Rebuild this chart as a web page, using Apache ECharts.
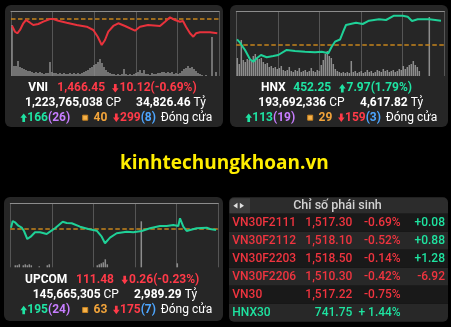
<!DOCTYPE html>
<html><head><meta charset="utf-8">
<script src="https://cdn.jsdelivr.net/npm/echarts@6/dist/echarts.min.js"></script>
<style>html,body{margin:0;padding:0;background:#000;}#c{width:451px;height:327px;}</style>
</head><body><div id="c"></div>
<script>
// ---------- DATA ----------
// time positions (session progress, 0..208) and index values
const vniT = [1,4,6.3,9,12.3,15,19,22.3,27.3,32.3,39,42.3,47.3,55.7,65.7,75.7,82.3,86.7,90.7,94,97.3,102.3,107.3,114,124,129,137,149,154,159,164,169,172,175,179,182.3,185,189,199,201,206.3];
const vniV = [1471.83,1467.58,1466.45,1468.79,1473.53,1475.86,1473.95,1472.32,1473.03,1474.66,1476.57,1476.57,1475.37,1473.95,1472.32,1471.12,1468.79,1464.04,1458.17,1461.71,1467.58,1471.62,1473.53,1471.62,1468.29,1471.12,1472.32,1471.62,1474.66,1477.77,1475.86,1474.66,1475.15,1471.12,1466.45,1464.04,1466.45,1467.16,1467.16,1466.45,1466.45];
const vniRef = 1476.57;
const vniVol = [51,10,10,15,9,8,7,6,5,5,4,3,4,3,4,3,2,3,3,14,4,3,3,2,3,2,3,2,2,3,2,3,2,3,2,3,4,5,6,8,9,11,12,14,17,13,9,6,4,3,2,2,1,2,1,2,7,2,1,2,1,2,3,4,6,3,6,2,2,1,3,2,2,3,3,4,4,3,4,3,4,2,3,2,3,5,7,8,10,8,9,7,5,3,2,1,0,1,0,0,39,0,4,0];

const hnxT = [0.7,3.7,8.7,13.7,17,20.4,24.7,30.4,37,42,50.4,58.7,68.7,78.7,85.4,92,95.4,98.7,103.7,106.7,109.7,119.7,126.4,132.7,142.7,149.7,157.7,166.4,171.4,175.7,181.4,193,194.7,204.7];
const hnxV = [445.97,444.82,442.36,439.21,438.40,439.55,440.67,439.89,440.33,440.67,442.36,442.02,441.78,441.58,441.78,441.24,443.47,445.16,445.90,448.43,450.80,451.57,451.14,452.25,452.72,452.49,453.94,453.94,453.60,452.15,452.72,452.72,452.25,452.25];
const hnxRef = 444.28;
const hnxVol = [18,12,36,16,14,17,16,15,20,22,18,17,18,14,12,13,9,10,8,9,7,8,10,6,5,6,9,5,4,6,5,8,4,5,6,4,5,8,5,4,6,5,11,16,22,25,20,18,12,7,5,4,3,4,3,4,3,15,4,5,3,4,5,3,4,6,4,5,3,4,6,5,4,7,5,6,4,5,6,4,5,7,6,10,7,9,11,12,15,11,9,5,0,0,0,0,59,0,0,0,0,0,0,0];

const upcT = [0.7,2.4,4.7,8,11.4,13.7,17,20.4,24.7,29.7,36.4,39.7,44.7,52.4,56.4,61.4,69.7,78,86.4,91.4,94.7,99.7,106.4,116.4,123,131.4,139.7,149.7,156.4,163,168,169.7,171.4,173,176.4,179.7,186.4,196.4,199.7,205.7];
const upcV = [112.07,113.74,113.42,112.57,112.07,111.24,109.24,109.82,110.92,110.92,110.49,111.07,111.92,113.57,113.24,113.17,112.32,111.74,111.32,109.82,108.17,109.57,110.67,111.07,110.92,111.24,111.92,112.49,112.49,112.74,112.49,114.42,114.24,112.32,111.24,111.49,111.92,112.07,111.74,111.48];
const upcRef = 111.74;
const upcVol = [0,0,2,2,3,0,2,3,2,3,2,0,0,0,1,0,0,0,2,3,0,0,0,0,0,0,0,0,0,0,0,0,0,0,0,0,0,0,0,0,0,0,0,2,3,4,5,8,3,0,0,0,0,0,0,0,0,0,0,0,0,0,0,0,0,46,0,0,0,0,0,0,0,0,0,0,0,0,0,0,0,0,0,4,0,0,0,0,0,0,0,0,0,0,0,0,0,0,0,0,0,0,0,0];

const indexNames = ['VNI','HNX','UPCOM'];
const indexClose = ['1,466.45','452.25','111.48'];
const indexChange = ['10.12(-0.69%)','7.97(1.79%)','0.26(-0.23%)'];
const indexVolume = ['1,223,765,038','193,692,336','145,665,305'];
const indexValue = ['34,826.46','4,617.82','2,989.29'];
const advances = ['166','113','195'];
const ceilings = ['(26)','(19)','(24)'];
const unchanged = ['40','29','63'];
const declines = ['299','159','175'];
const floors = ['(8)','(3)','(7)'];

const derivNames = ['VN30F2111','VN30F2112','VN30F2203','VN30F2206','VN30','HNX30'];
const derivPrices = ['1,517.30','1,518.10','1,518.50','1,510.30','1,517.22','741.75'];
const derivPct = ['-0.69%','-0.52%','-0.14%','-0.42%','-0.75%','+ 1.44%'];
const derivDiff = ['+0.08','+0.88','+1.28','-6.92','',''];

// ---------- STYLE ----------
const G='#1fe3a3', R='#ff3a48', P='#c77dff', B='#4da6ff', O='#f2a43a', W='#ffffff';
const TR='#f0343f', TG='#1ee3a0';
const FF='Roboto';
const chartW = 208;

function txt(x,y,text,fill,weight,size,align){
  return {type:'text',x:x,y:y,z:5,style:{text:text,fill:fill,fontFamily:FF,fontWeight:weight||'normal',fontSize:size||12,align:align||'left',verticalAlign:'middle'}};
}
function rich(x,y,parts){
  const r={}; let s='';
  parts.forEach(function(p,i){ r['p'+i]={fill:p[1],fontFamily:FF,fontWeight:p[2]||'bold',fontSize:12}; s+='{p'+i+'|'+p[0]+'}'; });
  return {type:'text',x:x,y:y,z:5,style:{text:s,rich:r,verticalAlign:'middle'}};
}
function upArrow(cx,cy,c){
  const h=8.5,w=6.6,sw=1.35,hh=4.4,t=cy-h/2;
  return {type:'polygon',z:5,shape:{points:[[cx,t],[cx+w/2,t+hh],[cx+sw,t+hh],[cx+sw,t+h],[cx-sw,t+h],[cx-sw,t+hh],[cx-w/2,t+hh]]},style:{fill:c}};
}
function downArrow(cx,cy,c){
  const h=8.5,w=6.6,sw=1.35,hh=4.4,b=cy+h/2;
  return {type:'polygon',z:5,shape:{points:[[cx,b],[cx+w/2,b-hh],[cx+sw,b-hh],[cx+sw,b-h],[cx-sw,b-h],[cx-sw,b-hh],[cx-w/2,b-hh]]},style:{fill:c}};
}
function square(x,cy){
  return {type:'rect',z:5,shape:{x:x,y:cy-2.5,width:5,height:5},style:{fill:'#f6b24a',stroke:'#c98320',lineWidth:1}};
}

// ---------- LAYOUT ----------
const grids = [
  {left:11, top:11, width:chartW, height:65},
  {left:236.3, top:11, width:chartW, height:65},
  {left:10.3, top:203.3, width:chartW, height:64}
];
const priceRange = [[1436.23,1482.23],[433.57,455.53],[102.165,118.165]];
const lines = [[vniT,vniV,vniRef,'#e8323c'],[hnxT,hnxV,hnxRef,'#1fd198'],[upcT,upcV,upcRef,'#1fd198']];
const vols = [vniVol,hnxVol,upcVol];

const xAxis=[], yAxis=[], series=[];
grids.forEach(function(g,k){
  g.show=true; g.backgroundColor='#1b1b1b'; g.borderColor='#4a4a4a'; g.borderWidth=1;
  xAxis.push({gridIndex:k,type:'value',min:0,max:chartW,interval:chartW/5,axisLabel:{show:false},axisTick:{show:false},axisLine:{show:false},splitLine:{show:true,lineStyle:{color:'#555',width:1}}});
  xAxis.push({gridIndex:k,type:'category',data:vols[k].map(function(_,i){return i;}),axisLabel:{show:false},axisTick:{show:false},axisLine:{show:true,lineStyle:{color:'#8c8c8c',width:1}},splitLine:{show:false}});
  yAxis.push({gridIndex:k,type:'value',min:priceRange[k][0],max:priceRange[k][1],show:false,splitLine:{show:false}});
  yAxis.push({gridIndex:k,type:'value',min:0,max:g.height,show:false,splitLine:{show:false}});
  series.push({type:'bar',xAxisIndex:2*k+1,yAxisIndex:2*k+1,data:vols[k],barCategoryGap:'25%',itemStyle:{color:'#8d8d8d'},silent:true,z:2});
  const L=lines[k];
  series.push({type:'line',xAxisIndex:2*k,yAxisIndex:2*k,data:L[0].map(function(t,i){return [t,L[1][i]];}),showSymbol:false,symbol:'none',lineStyle:{color:L[3],width:2},silent:true,z:4,
    markLine:{silent:true,symbol:'none',label:{show:false},lineStyle:{color:'#c5841c',type:[4.5,2.5],width:1.5},data:[{yAxis:L[2]}],z:3}});
});

// ---------- GRAPHICS ----------
const el = [];
el.push({type:'rect',z:0,shape:{x:5,y:5,width:218,height:122,r:6},style:{fill:'#262626'}});
el.push({type:'rect',z:0,shape:{x:230,y:5,width:218,height:122,r:6},style:{fill:'#262626'}});
el.push({type:'rect',z:0,shape:{x:4,y:197,width:219,height:124,r:6},style:{fill:'#262626'}});
el.push({type:'rect',z:0,shape:{x:229,y:197.3,width:219,height:16.4,r:[5,5,0,0]},style:{fill:'#2c2c2c'}});
el.push({type:'rect',z:1,shape:{x:230,y:198.3,width:20,height:15,r:[4,0,0,0]},style:{fill:'#3d3d3d'}});
el.push({type:'polygon',z:2,shape:{points:[[233.3,205.7],[237.5,202.8],[237.5,208.6]]},style:{fill:'#e0e0e0'}});
el.push({type:'polygon',z:2,shape:{points:[[244,205.7],[239.8,202.8],[239.8,208.6]]},style:{fill:'#e0e0e0'}});
el.push(txt(337.5,205.7,'Chỉ số phái sinh','#d2d2d2','500',12.5,'center'));
derivNames.forEach(function(n,i){
  const top=213.7+18*i, cy=top+9, last=i===derivNames.length-1;
  el.push({type:'rect',z:0,shape:{x:229,y:top,width:219,height:18,r:last?[0,0,5,5]:0},style:{fill:i%2?'#282828':'#191919'}});
  const c = last?TG:TR;
  el.push(txt(232.3,cy,n,c,'500',12,'left'));
  el.push(txt(352.3,cy,derivPrices[i],c,'500',12,'right'));
  el.push(txt(400.7,cy,derivPct[i],c,'500',12,'right'));
  if(derivDiff[i]) el.push(txt(445,cy,derivDiff[i],derivDiff[i][0]==='-'?TR:TG,'500',12,'right'));
});
const P1 = [
  {nx:28.3,cx:57.3,ax:115.3,chx:119.5,vx:25,vlx:136,y1:88.3,y2:102.7,y3:117.7,o:0,up:false,cc:R},
  {nx:261,cx:293.3,ax:342.3,chx:346.5,vx:258.3,vlx:360,y1:88.3,y2:102.7,y3:117.7,o:225,up:true,cc:G},
  {nx:25,cx:76,ax:124.7,chx:129,vx:32.7,vlx:134,y1:280,y2:295,y3:310,o:0,up:false,cc:R}
];
P1.forEach(function(p,k){
  el.push(txt(p.nx,p.y1,indexNames[k],W,'bold'));
  el.push(txt(p.cx,p.y1,indexClose[k],p.cc,'bold'));
  el.push(p.up?upArrow(p.ax,p.y1,p.cc):downArrow(p.ax,p.y1,p.cc));
  el.push(txt(p.chx,p.y1,indexChange[k],p.cc,'bold'));
  el.push(rich(p.vx,p.y2,[[indexVolume[k]+' ',W,'bold'],['CP',W,'normal']]));
  el.push(rich(p.vlx,p.y2,[[indexValue[k]+' ',W,'bold'],['Tỷ',W,'normal']]));
  const o=p.o;
  el.push(upArrow(23.7+o,p.y3,G));
  el.push(rich(27.3+o,p.y3,[[advances[k],G],[ceilings[k],P]]));
  el.push(square(82.7+o,p.y3));
  el.push(txt(93.5+o,p.y3,unchanged[k],O,'bold'));
  el.push(downArrow(116.3+o,p.y3,R));
  el.push(rich(120+o,p.y3,[[declines[k],R],[floors[k],B]]));
  el.push(txt(160.7+o,p.y3,'Đóng cửa',W,'normal'));
});
el.push({type:'text',x:120,y:163.3,z:5,style:{text:'kinhtechungkhoan.vn',fill:'#ffee00',fontFamily:'Open Sans',fontWeight:'bold',fontSize:19,verticalAlign:'middle'}});

const chart = echarts.init(document.getElementById('c'),null,{renderer:'canvas'});
chart.setOption({
  backgroundColor:'#000',
  animation:false,
  grid:grids, xAxis:xAxis, yAxis:yAxis, series:series,
  graphic:{elements:el}
});
</script></body></html>
